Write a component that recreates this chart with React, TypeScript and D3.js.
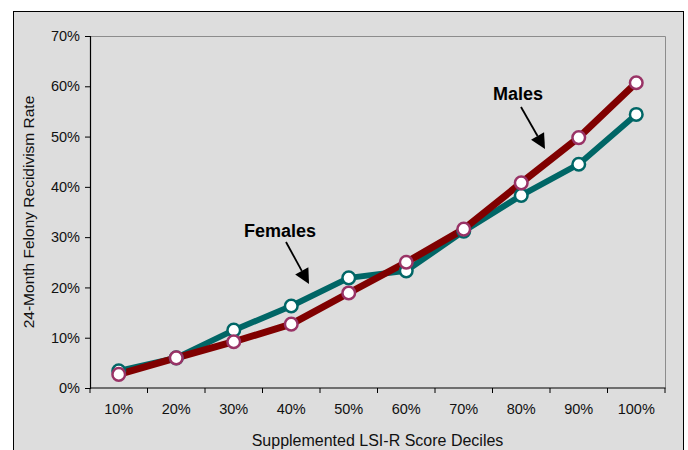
import React, { useRef, useEffect } from 'react';
import * as d3 from 'd3';

const deciles = ['10%', '20%', '30%', '40%', '50%', '60%', '70%', '80%', '90%', '100%'];
const males = [2.7, 6.0, 9.2, 12.7, 18.9, 25.0, 31.6, 40.8, 49.8, 60.7];
const females = [3.4, 6.0, 11.5, 16.3, 21.9, 23.3, 31.2, 38.3, 44.5, 54.4];
const yTicks = [0, 10, 20, 30, 40, 50, 60, 70];

export default function App() {
  const svgRef = useRef<SVGSVGElement>(null);

  useEffect(() => {
    const w = 688;
    const h = 450;
    const m = { left: 90, right: 665, top: 36, bottom: 388 };
    const font = 'Liberation Sans, Arial, sans-serif';

    const svg = d3.select(svgRef.current);
    svg.selectAll('*').remove();

    // outer frame
    svg.append('rect').attr('width', w).attr('height', h).attr('fill', '#fff');
    svg
      .append('rect')
      .attr('x', 13.5)
      .attr('y', 11.5)
      .attr('width', 670)
      .attr('height', 460)
      .attr('fill', '#dddddd')
      .attr('stroke', '#000')
      .attr('stroke-width', 1);

    const x = d3.scaleBand().domain(deciles).range([m.left, m.right]);
    const y = d3.scaleLinear().domain([0, 70]).range([m.bottom, m.top]);

    // plot border (top/right gray)
    svg
      .append('path')
      .attr('d', `M${m.left},${m.top + 0.5}H${m.right + 0.5}V${m.bottom}`)
      .attr('fill', 'none')
      .attr('stroke', '#8c8c8c')
      .attr('stroke-width', 1);

    // y axis
    const yAxis = svg
      .append('g')
      .attr('transform', `translate(${m.left},0)`)
      .call(
        d3
          .axisLeft(y)
          .tickValues(yTicks)
          .tickSize(5)
          .tickPadding(5)
          .tickFormat((d) => `${d}%`)
      );
    // x axis
    const xAxis = svg
      .append('g')
      .attr('transform', `translate(0,${m.bottom})`)
      .call(d3.axisBottom(x).tickSize(0).tickPadding(16));

    // boundary ticks for the category axis
    xAxis
      .selectAll('line.bound')
      .data(d3.range(deciles.length + 1))
      .join('line')
      .attr('class', 'bound')
      .attr('x1', (i) => m.left + i * x.step())
      .attr('x2', (i) => m.left + i * x.step())
      .attr('y1', 0)
      .attr('y2', 5)
      .attr('stroke', '#000');

    [yAxis, xAxis].forEach((g) => {
      g.select('.domain').attr('stroke', '#000').attr('stroke-width', 1.2);
      g.selectAll('.tick line').attr('stroke', '#000');
      g.selectAll('text')
        .attr('font-family', font)
        .attr('font-size', 14.5)
        .attr('fill', '#111');
    });
    xAxis.select('.domain').attr('d', `M${m.left},0H${m.right + 0.5}`);

    // axis titles
    svg
      .append('text')
      .attr('transform', `translate(33.5,${(m.top + m.bottom) / 2}) rotate(-90)`)
      .attr('text-anchor', 'middle')
      .attr('font-family', font)
      .attr('font-size', 15.5)
      .attr('fill', '#111')
      .text('24-Month Felony Recidivism Rate');
    svg
      .append('text')
      .attr('x', (m.left + m.right) / 2)
      .attr('y', 446)
      .attr('text-anchor', 'middle')
      .attr('font-family', font)
      .attr('font-size', 16)
      .attr('fill', '#111')
      .text('Supplemented LSI-R Score Deciles');

    const cx = (i: number) => (x(deciles[i]) as number) + x.bandwidth() / 2;
    const line = d3
      .line<number>()
      .x((_, i) => cx(i))
      .y((d) => y(d));

    const series = [
      { data: females, color: '#006666', marker: '#006666', width: 6 },
      { data: males, color: '#800000', marker: '#993366', width: 7 },
    ];
    series.forEach((s) => {
      svg
        .append('path')
        .datum(s.data)
        .attr('d', line)
        .attr('fill', 'none')
        .attr('stroke', s.color)
        .attr('stroke-width', s.width)
        .attr('stroke-linejoin', 'round');
    });
    series.forEach((s) => {
      svg
        .append('g')
        .selectAll('circle')
        .data(s.data)
        .join('circle')
        .attr('cx', (_, i) => cx(i))
        .attr('cy', (d) => y(d))
        .attr('r', 6.3)
        .attr('fill', '#fff')
        .attr('stroke', s.marker)
        .attr('stroke-width', 2.5);
    });

    // annotations
    const notes = [
      { label: 'Males', tx: 518, ty: 100, x1: 521, y1: 107, x2: 545, y2: 149 },
      { label: 'Females', tx: 280, ty: 237, x1: 286, y1: 242, x2: 309, y2: 284 },
    ];
    notes.forEach((n) => {
      svg
        .append('text')
        .attr('x', n.tx)
        .attr('y', n.ty)
        .attr('text-anchor', 'middle')
        .attr('font-family', font)
        .attr('font-weight', 'bold')
        .attr('font-size', 18)
        .text(n.label);
      const ang = Math.atan2(n.y2 - n.y1, n.x2 - n.x1);
      const hl = 15;
      const hw = 7.5;
      const bx = n.x2 - hl * Math.cos(ang);
      const by = n.y2 - hl * Math.sin(ang);
      svg
        .append('line')
        .attr('x1', n.x1)
        .attr('y1', n.y1)
        .attr('x2', bx)
        .attr('y2', by)
        .attr('stroke', '#000')
        .attr('stroke-width', 1.8);
      svg
        .append('path')
        .attr(
          'd',
          `M${n.x2},${n.y2}L${bx + hw * Math.sin(ang)},${by - hw * Math.cos(ang)}L${bx - hw * Math.sin(ang)},${by + hw * Math.cos(ang)}Z`
        )
        .attr('fill', '#000');
    });
  }, []);

  return (
    <svg
      ref={svgRef}
      width={688}
      height={450}
      style={{ position: 'absolute', left: 0, top: 0, display: 'block' }}
    ></svg>
  );
}
